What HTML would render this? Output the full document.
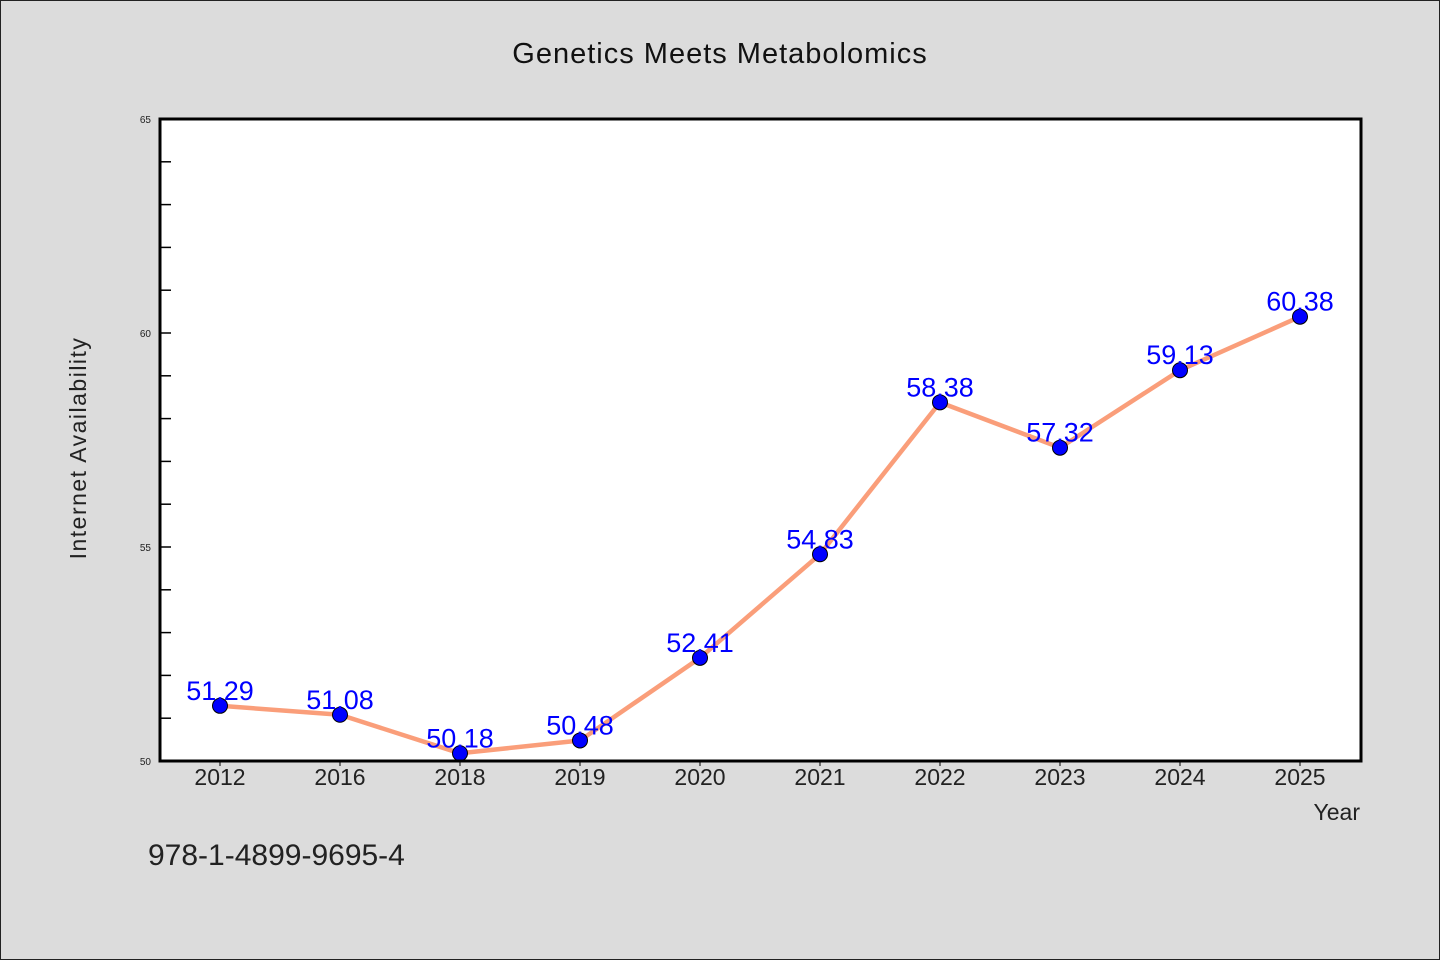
<!DOCTYPE html>
<html><head><meta charset="utf-8"><style>
body{margin:0;background:#dcdcdc;}
svg{display:block;font-family:"Liberation Sans","WenQuanYi Zen Hei",sans-serif;}
</style></head><body>
<svg id="chart" width="1440" height="960">
<rect x="0.5" y="0.5" width="1439" height="959" fill="#dcdcdc" stroke="#222"/>
<text x="720" y="63" text-anchor="middle" font-size="29" fill="#111" font-family="WenQuanYi Zen Hei, sans-serif" letter-spacing="1">Genetics Meets Metabolomics</text>
<rect x="160" y="119" width="1201" height="642" fill="#fff"/>
<g id="axes"></g>
<g id="marks"></g>
<rect x="160" y="119" width="1201" height="642" fill="none" stroke="#000" stroke-width="3"/>
<text transform="translate(86,448) rotate(-90)" text-anchor="middle" font-size="23" fill="#222" font-family="WenQuanYi Zen Hei, sans-serif" letter-spacing="1.5">Internet Availability</text>
<text x="1360" y="820" text-anchor="end" font-size="23" fill="#222" font-family="WenQuanYi Zen Hei, sans-serif">Year</text>
<text x="148" y="865" font-size="30" fill="#222" font-family="WenQuanYi Zen Hei, sans-serif">978-1-4899-9695-4</text>
</svg>
<script>
const categories=["2012","2016","2018","2019","2020","2021","2022","2023","2024","2025"];
const values=[51.29,51.08,50.18,50.48,52.41,54.83,58.38,57.32,59.13,60.38];
const valueLabels=["51.29","51.08","50.18","50.48","52.41","54.83","58.38","57.32","59.13","60.38"];
const yTickLabels=[50,55,60,65];
const yMin=50,yMax=65;
const NS="http://www.w3.org/2000/svg";
function y(v){return 761-(v-yMin)/(yMax-yMin)*642;}
function x(i){return 220+i*120;}
function mk(t,a,p){const e=document.createElementNS(NS,t);for(const k in a)e.setAttribute(k,a[k]);p.appendChild(e);return e;}
const ax=document.getElementById('axes'),mg=document.getElementById('marks');
for(let v=yMin+1;v<yMax;v++){
 const t=mk('line',{x1:160,x2:171,y1:y(v),y2:y(v),stroke:'#000','stroke-width':1.5},ax);
 
 
}
yTickLabels.forEach(v=>{
 const t=mk('text',{x:151,y:y(v)+4,'text-anchor':'end','font-size':10,fill:'#222'},ax);
 t.textContent=v;
 
 
});
categories.forEach((c,i)=>{
 const tk=mk('line',{x1:x(i),x2:x(i),y1:761,y2:766,stroke:'#000','stroke-width':1},ax);
 
 
 const t=mk('text',{x:x(i),y:785,'text-anchor':'middle','font-size':23,fill:'#222','font-family':'WenQuanYi Zen Hei, sans-serif'},ax);
 t.textContent=c;
 
 
});
const pl=mk('polyline',{points:values.map((v,i)=>x(i)+','+y(v)).join(' '),fill:'none',stroke:'#fa9e7a','stroke-width':4.5,'stroke-linejoin':'round'},mg);


values.forEach((v,i)=>{
 const c=mk('circle',{cx:x(i),cy:y(v),r:7.5,fill:'#0000ff',stroke:'#000','stroke-width':1},mg);
 
 
});
values.forEach((v,i)=>{
 const t=mk('text',{x:x(i),y:y(v)-6,'text-anchor':'middle','font-size':27,fill:'#0000ff'},mg);
 t.textContent=valueLabels[i];
 
 
});
</script>
</body></html>
